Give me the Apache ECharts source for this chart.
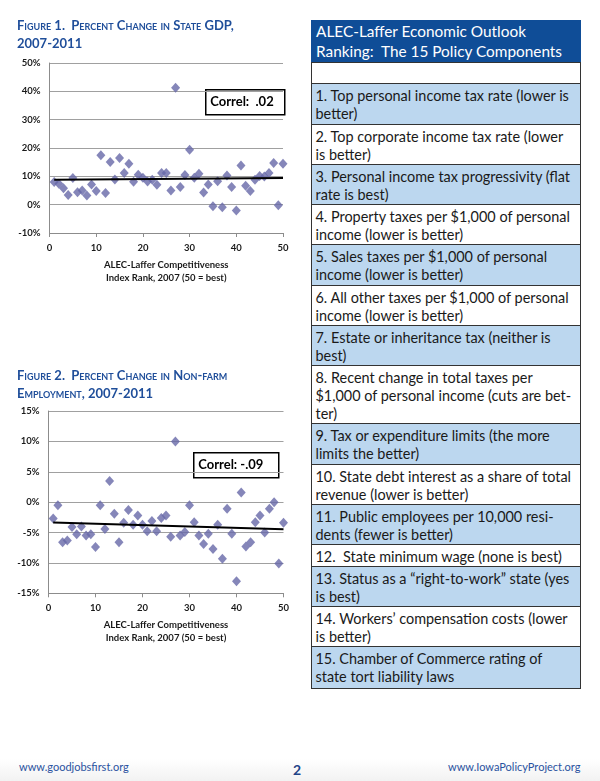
<!DOCTYPE html>
<html><head><meta charset="utf-8">
<script src="https://cdn.jsdelivr.net/npm/echarts@6/dist/echarts.min.js"></script>
<style>
html,body{margin:0;padding:0;background:#fff;}
body{width:600px;height:781px;position:relative;overflow:hidden;font-family:Lato,"Open Sans",sans-serif;}
#chart{position:absolute;left:0;top:0;width:600px;height:781px;}
.ftitle{position:absolute;left:17px;color:#1f4e9a;font-weight:bold;font-variant:small-caps;font-size:13px;line-height:18px;white-space:nowrap;}
#tbl{position:absolute;left:0;top:0;}
.thead{position:absolute;left:310.5px;top:20px;width:270px;height:42px;background:#0f4d97;color:#fff;box-sizing:border-box;padding:1px 0 0 5.5px;line-height:20px;white-space:pre;}
.row{position:absolute;left:310.5px;width:270.5px;box-sizing:border-box;border:1.5px solid #333;padding:3px 0 0 4px;line-height:18px;color:#1a1a1a;white-space:pre;}
.foot{position:absolute;color:#2a52a0;font-size:11px;white-space:nowrap;}
</style></head>
<body>
<div id="chart"></div>
<div class="ftitle" style="top:16px;">Figure 1.&nbsp; Percent Change in State GDP,<br>2007-2011</div>
<div class="ftitle" style="top:366px;">Figure 2.&nbsp; Percent Change in Non-farm<br>Employment, 2007-2011</div>
<div id="tbl"></div>
<div style="position:absolute;left:0;bottom:0;width:600px;height:22px;background:linear-gradient(#ffffff,#f2f2f2);"></div>
<div class="foot" style="left:19px;top:760px;">www.goodjobsfirst.org</div>
<div class="foot" style="left:293px;top:761px;font-size:14px;font-weight:bold;color:#1f4488;">2</div>
<div class="foot" style="left:448px;top:760px;">www.IowaPolicyProject.org</div>
<script>
// ---- data ----
const ranks = [1,2,3,4,5,6,7,8,9,10,11,12,13,14,15,16,17,18,19,20,21,22,23,24,25,26,27,28,29,30,31,32,33,34,35,36,37,38,39,40,41,42,43,44,45,46,47,48,49,50];
const gdpChange = [8.0,7.4,5.8,3.4,9.4,4.4,5.0,3.2,7.1,4.8,17.4,4.1,15.1,8.9,16.5,11.2,14.4,8.1,10.6,9.5,8.2,8.8,7.0,11.2,11.2,5.0,41.3,6.2,10.5,19.4,9.5,10.9,4.3,7.1,-0.6,8.3,-0.9,10.3,6.2,-2.1,13.8,6.7,4.8,8.8,10.1,9.9,11.2,14.7,-0.2,14.4];
const empChange = [-2.7,-0.5,-6.6,-6.3,-4.1,-5.3,-4.0,-5.5,-5.3,-7.4,-0.5,-4.4,3.5,-1.9,-6.6,-3.4,-1.3,-3.7,-2.2,-3.7,-4.8,-3.1,-4.8,-2.6,-2.2,-5.7,10.0,-5.5,-4.9,-0.5,-3.3,-5.5,-6.9,-5.2,-7.7,-3.7,-9.3,-1.1,-5.2,-13.0,1.6,-7.3,-6.6,-3.3,-2.2,-5.0,-1.1,0.0,-10.1,-3.4];
const trendGdpX = [1, 50];
const trendGdpY = [8.8, 9.4];
const trendEmpX = [1, 50];
const trendEmpY = [-3.35, -4.45];
const gdpTicks = [-10, 0, 10, 20, 30, 40, 50];
const empTicks = [-15, -10, -5, 0, 5, 10, 15];
const rankTicks = [0, 10, 20, 30, 40, 50];
const correlGdp = 'Correl:  .02';
const correlEmp = 'Correl: -.09';
const xAxisTitle = 'ALEC-Laffer Competitiveness\nIndex Rank, 2007 (50 = best)';
const tableTitle = 'ALEC-Laffer Economic Outlook\nRanking:  The 15 Policy Components';
const components = [
 '1. Top personal income tax rate (lower is\nbetter)',
 '2. Top corporate income tax rate (lower\nis better)',
 '3. Personal income tax progressivity (flat\nrate is best)',
 '4. Property taxes per $1,000 of personal\nincome (lower is better)',
 '5. Sales taxes per $1,000 of personal\nincome (lower is better)',
 '6. All other taxes per $1,000 of personal\nincome (lower is better)',
 '7. Estate or inheritance tax (neither is\nbest)',
 '8. Recent change in total taxes per\n$1,000 of personal income (cuts are bet-\nter)',
 '9. Tax or expenditure limits (the more\nlimits the better)',
 '10. State debt interest as a share of total\nrevenue (lower is better)',
 '11. Public employees per 10,000 resi-\ndents (fewer is better)',
 '12.  State minimum wage (none is best)',
 '13. Status as a \u201cright-to-work\u201d state (yes\nis best)',
 '14. Workers\u2019 compensation costs (lower\nis better)',
 '15. Chamber of Commerce rating of\nstate tort liability laws'
];

// ---- layout of table ----
const rowEdges = [62,83,124,164,204,244,285,325,365,423,464,504,544,566,606,646,687];
function fitSize(text, target, weight){
  const c = document.createElement('canvas').getContext('2d');
  c.font = (weight||'normal') + ' 100px Lato';
  return 100 * target / c.measureText(text).width;
}
const rowFont = fitSize('10. State debt interest as a share of total', 256);
const headFont = fitSize('Ranking:  The 15 Policy Components', 247);
const tbl = document.getElementById('tbl');
const head = document.createElement('div');
head.className = 'thead';
head.style.fontSize = headFont + 'px';
head.textContent = tableTitle;
tbl.appendChild(head);
const rows = [''].concat(components);
rows.forEach((t, i) => {
  const d = document.createElement('div');
  d.className = 'row';
  d.style.top = rowEdges[i] + 'px';
  d.style.height = (rowEdges[i+1] - rowEdges[i] + 1.5) + 'px';
  d.style.background = (i % 2 === 1) ? '#bcd7ef' : '#ffffff';
  d.style.fontSize = rowFont + 'px';
  d.textContent = t;
  tbl.appendChild(d);
});

// ---- charts ----
const pairs = (xs, ys) => xs.map((x, i) => [x, ys[i]]);
const labelStyle = {fontFamily:'Lato', fontSize:9.5, fontWeight:'bold', color:'#1a1a1a'};
const gridColor = '#a0a0a0';
function xAx(gi){
  return {gridIndex:gi, type:'value', min:rankTicks[0], max:rankTicks[rankTicks.length-1], interval:rankTicks[1]-rankTicks[0],
    axisLine:{onZero:false, lineStyle:{color:'#8c8c8c', width:1}},
    axisTick:{show:true, length:4, lineStyle:{color:'#8c8c8c'}},
    splitLine:{show:false},
    axisLabel:Object.assign({margin:10}, labelStyle),
    name:xAxisTitle, nameLocation:'middle', nameGap:25,
    nameTextStyle:{fontFamily:'Lato', fontSize:9.5, fontWeight:'bold', color:'#1a1a1a', lineHeight:13}};
}
function yAx(gi, ticks){
  return {gridIndex:gi, type:'value', min:ticks[0], max:ticks[ticks.length-1], interval:ticks[1]-ticks[0],
    axisLine:{show:true, onZero:false, lineStyle:{color:'#8c8c8c', width:1}},
    axisTick:{show:false},
    splitLine:{show:true, lineStyle:{color:gridColor, width:1}},
    axisLabel:Object.assign({margin:9, formatter:'{value}%'}, labelStyle)};
}
function box(x, y, w, h, txt){
  return {type:'group', left:x, top:y, z:100, children:[
    {type:'rect', shape:{x:0, y:0, width:w, height:h}, style:{fill:'#fff', stroke:'#000', lineWidth:1.5}},
    {type:'text', x:4.5, y:h/2, style:{text:txt, fontFamily:'Lato', fontSize:13, fontWeight:'bold', fill:'#000', verticalAlign:'middle'}}
  ]};
}
const chart = echarts.init(document.getElementById('chart'));
chart.setOption({
  animation:false,
  backgroundColor:'transparent',
  grid:[{left:49.5, top:63, width:233.5, height:170}, {left:48.5, top:411, width:235, height:182.3}],
  xAxis:[xAx(0), xAx(1)],
  yAxis:[yAx(0, gdpTicks), yAx(1, empTicks)],
  series:[
    {type:'scatter', xAxisIndex:0, yAxisIndex:0, data:pairs(ranks, gdpChange), symbol:'diamond', symbolSize:[9,10], itemStyle:{color:'#6768a8'}, z:3},
    {type:'line', xAxisIndex:0, yAxisIndex:0, data:pairs(trendGdpX, trendGdpY), showSymbol:false, symbol:'none', lineStyle:{color:'#000', width:2}, z:4},
    {type:'scatter', xAxisIndex:1, yAxisIndex:1, data:pairs(ranks, empChange), symbol:'diamond', symbolSize:[9,10], itemStyle:{color:'#6768a8'}, z:3},
    {type:'line', xAxisIndex:1, yAxisIndex:1, data:pairs(trendEmpX, trendEmpY), showSymbol:false, symbol:'none', lineStyle:{color:'#000', width:2}, z:4}
  ],
  graphic:[box(205, 89, 79, 25, correlGdp), box(193, 452, 85, 25, correlEmp)]
});
</script>
</body></html>
